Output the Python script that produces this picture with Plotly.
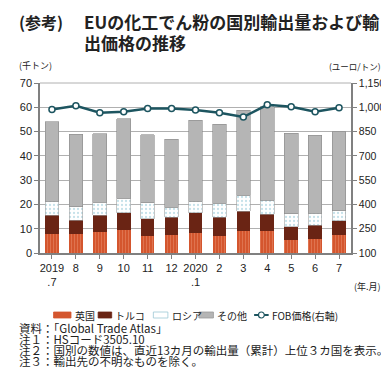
import plotly.graph_objects as go

months = ["2019<br>.7", "8", "9", "10", "11", "12", "2020<br>.1", "2", "3", "4", "5", "6", "7"]
uk = [7.8, 7.8, 8.6, 9.3, 7.1, 7.5, 8.1, 6.9, 9.1, 8.9, 5.3, 5.9, 7.4]
turkey = [7.7, 5.6, 6.9, 7.3, 7.0, 7.2, 8.5, 7.8, 8.0, 7.1, 5.5, 5.5, 5.9]
russia = [5.8, 5.7, 5.4, 6.0, 6.5, 4.1, 4.7, 5.7, 6.6, 5.7, 5.4, 4.9, 4.1]
other = [32.7, 29.9, 28.2, 32.7, 28.1, 28.1, 33.4, 32.7, 35.0, 38.6, 33.2, 32.1, 32.5]
fob = [987, 1009, 966, 972, 993, 993, 983, 966, 940, 1015, 1003, 972, 997]
series_names = ["英国", "トルコ", "ロシア", "その他", "FOB価格(右軸)"]

FONT = "Noto Sans CJK JP, Arial, sans-serif"
NUMFONT = "Liberation Sans, Arial, sans-serif"
x = list(range(len(months)))

W, H = 389, 368
L, R, T, B = 26, 42, 75, 123
PW, PH = W - L - R, H - T - B

C_UK, C_UK2 = "#d4562e", "#e9906f"
C_TR = "#6a2414"
C_RU_DOT = "#8cc4d4"
C_OT = "#b5b5b5"
C_FOB = "#1d5560"


def px_x(v):
    return (v - L) / PW


def px_y(v):
    return 1 - (v - T) / PH


fig = go.Figure()
fig.add_trace(go.Bar(
    x=x, y=uk, name=series_names[0],
    marker=dict(color=C_UK, line=dict(width=0),
                pattern=dict(shape="|", fgcolor=C_UK2, size=3, solidity=0.35, fillmode="overlay")),
))
fig.add_trace(go.Bar(
    x=x, y=turkey, name=series_names[1],
    marker=dict(color=C_TR, line=dict(width=0)),
))
fig.add_trace(go.Bar(
    x=x, y=russia, name=series_names[2],
    marker=dict(color="#ffffff", line=dict(width=0.6, color="#a0a0a0"),
                pattern=dict(shape=".", fgcolor=C_RU_DOT, size=4, solidity=0.25, fillmode="overlay")),
))
fig.add_trace(go.Bar(
    x=x, y=other, name=series_names[3],
    marker=dict(color=C_OT, line=dict(width=0.6, color="#8a8a8a")),
))
fig.add_trace(go.Scatter(
    x=x, y=fob, name=series_names[4], yaxis="y2", mode="lines+markers",
    line=dict(color=C_FOB, width=2.5),
    marker=dict(color="white", size=6, line=dict(color=C_FOB, width=1.5)),
))

fig.update_layout(
    width=W, height=H,
    margin=dict(l=L, r=R, t=T, b=B),
    barmode="stack", bargap=0.43,
    paper_bgcolor="white", plot_bgcolor="white",
    font=dict(family=FONT, size=11, color="#222222"),
    showlegend=False,
    xaxis=dict(
        tickmode="array", tickvals=x, ticktext=months, range=[-0.5, 12.5],
        showgrid=False, showline=True, linecolor="#808080", linewidth=1.5,
        ticks="outside", tickson="boundaries", ticklen=4, tickcolor="#808080",
        tickfont=dict(size=11, family=NUMFONT), zeroline=False,
    ),
    yaxis=dict(
        range=[0, 70], dtick=10, showgrid=True, gridcolor="#b0b0b0", gridwidth=1,
        showline=True, linecolor="#808080", linewidth=1.5,
        ticks="outside", ticklen=4, tickcolor="#808080", zeroline=False,
        tickfont=dict(size=11, family=NUMFONT),
    ),
    yaxis2=dict(
        range=[100, 1150], tickvals=[100, 250, 400, 550, 700, 850, 1000, 1150],
        tickformat=",", overlaying="y", side="right", showgrid=False,
        showline=True, linecolor="#808080", linewidth=1.5,
        ticks="outside", ticklen=4, tickcolor="#808080", zeroline=False,
        tickfont=dict(size=10.5, family=NUMFONT),
    ),
)

fig.add_shape(type="line", xref="paper", yref="paper", x0=0, x1=1, y0=1, y1=1,
              line=dict(color="#b0b0b0", width=1))

# legend (swatches + labels)
LEG_Y = 307
swatches = [(40, 58, C_UK, C_UK), (86, 100, C_TR, C_TR), (143, 158, "#ffffff", "#9cc8d4"),
            (190, 205, C_OT, "#999999")]
for x0, x1, fc, lc in swatches:
    fig.add_shape(type="rect", xref="paper", yref="paper",
                  x0=px_x(x0), x1=px_x(x1), y0=px_y(LEG_Y + 3), y1=px_y(LEG_Y - 3),
                  fillcolor=fc, line=dict(color=lc, width=0.8))
fig.add_shape(type="line", xref="paper", yref="paper",
              x0=px_x(247), x1=px_x(262), y0=px_y(LEG_Y), y1=px_y(LEG_Y),
              line=dict(color=C_FOB, width=2))
fig.add_shape(type="circle", xref="paper", yref="paper",
              x0=px_x(251.5), x1=px_x(257.5), y0=px_y(LEG_Y + 3), y1=px_y(LEG_Y - 3),
              fillcolor="white", line=dict(color=C_FOB, width=1.2))
leg_text_x = [60, 101, 160, 207, 263]
for name, tx in zip(series_names, leg_text_x):
    fig.add_annotation(text=name, xref="paper", yref="paper", x=px_x(tx), y=px_y(LEG_Y),
                       xanchor="left", yanchor="middle", showarrow=False,
                       font=dict(size=10, family=FONT, color="#222222"))

anns = [
    dict(text="<b>(参考)</b>", x=2, y=14, size=16, anchor="left"),
    dict(text="<b>EUの化工でん粉の国別輸出量および輸</b>", x=69, y=14, size=17, anchor="left"),
    dict(text="<b>出価格の推移</b>", x=69, y=35, size=17, anchor="left"),
    dict(text="(千トン)", x=2, y=58, size=9, anchor="left"),
    dict(text="(ユーロ/トン)", x=380, y=58, size=8.5, anchor="right"),
    dict(text="(年.月)", x=380, y=278, size=9, anchor="right"),
    dict(text="資料：「Global Trade Atlas」", x=2, y=320, size=11.5, anchor="left"),
    dict(text="注１：HSコード3505.10", x=2, y=331, size=11.5, anchor="left"),
    dict(text="注２：国別の数値は、直近13カ月の輸出量（累計）上位３カ国を表示。", x=2, y=342, size=11.5, anchor="left"),
    dict(text="注３：輸出先の不明なものを除く。", x=2, y=353, size=11.5, anchor="left"),
]
for a in anns:
    fig.add_annotation(
        text=a["text"], xref="paper", yref="paper",
        x=px_x(a["x"]), y=px_y(a["y"]),
        xanchor=a["anchor"], yanchor="middle", showarrow=False,
        font=dict(size=a["size"], family=FONT, color="#222222"),
    )

fig.write_html("out.html")
